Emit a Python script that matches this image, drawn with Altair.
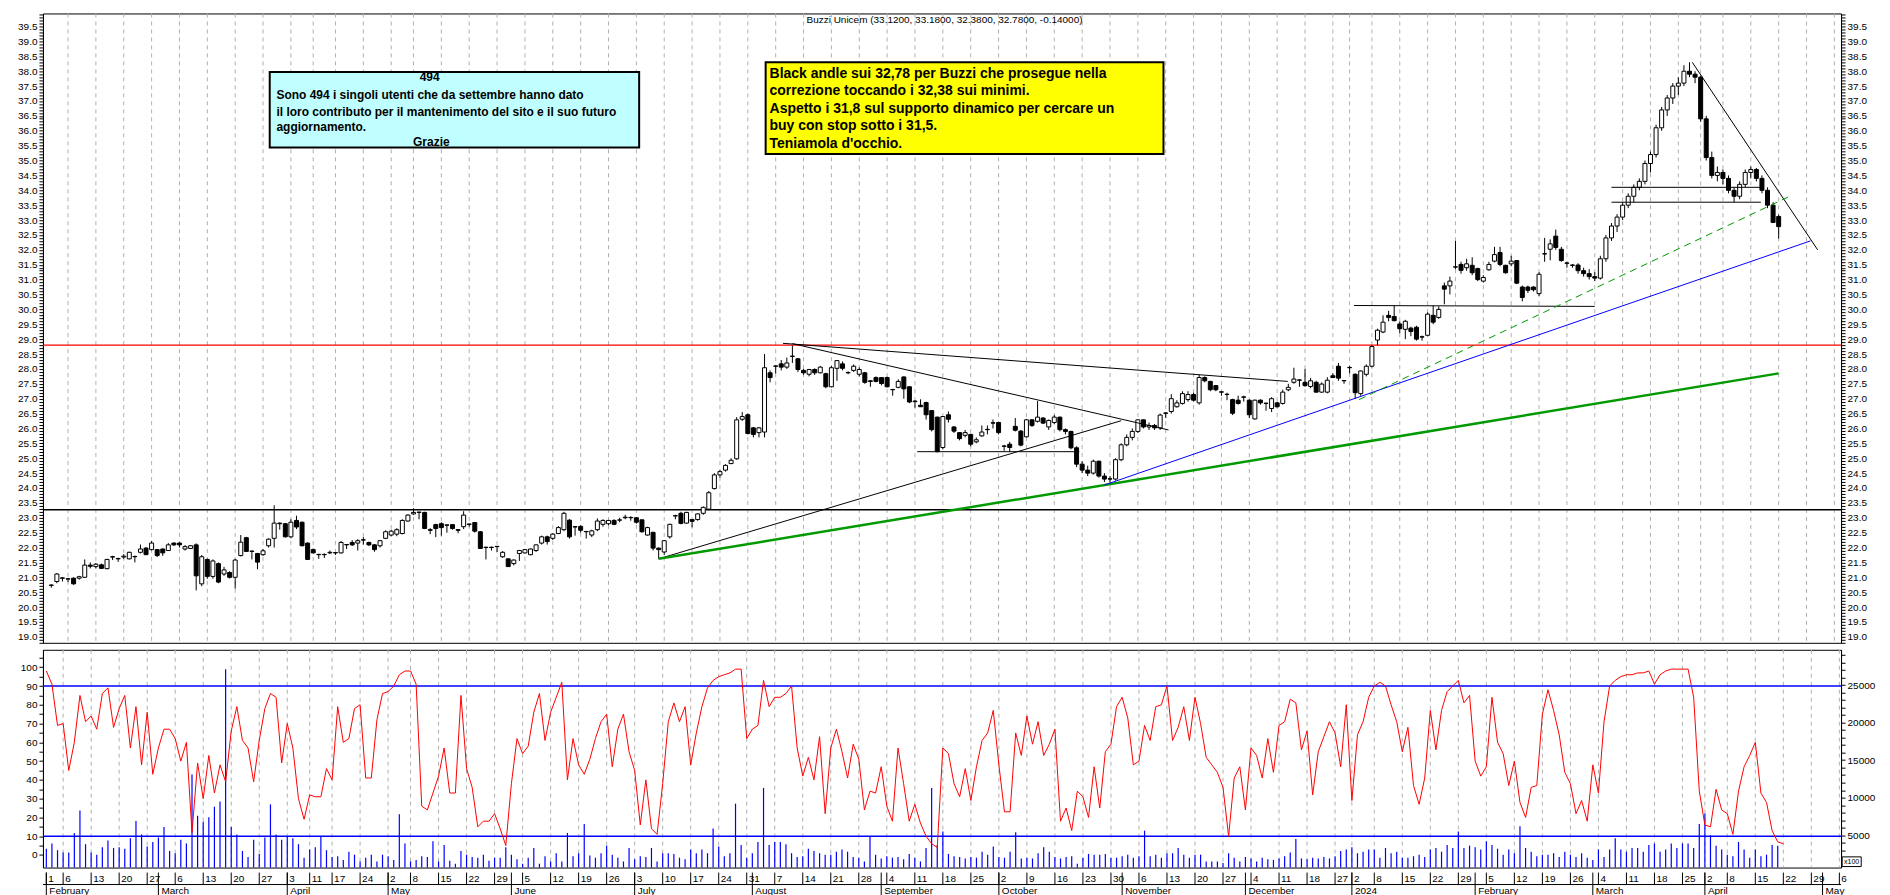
import altair as alt
import pandas as pd

TITLE = "Buzzi Unicem (33.1200, 33.1800, 32.3800, 32.7800, -0.14000)"
HOLIDAYS = ["2023-04-07", "2023-04-10", "2023-05-01", "2023-12-25", "2023-12-26",
            "2024-01-01", "2024-03-29", "2024-04-01"]

# (open, high, low, close) per trading day, month by month
FEB23 = [(20.74,20.76,20.65,20.73),(20.86,21.14,20.80,21.11),(20.98,21.00,20.86,20.97),(20.95,20.97,20.84,20.94),(20.97,21.00,20.75,20.78),
         (20.97,21.05,20.92,21.02),(21.00,21.60,20.98,21.41),(21.41,21.50,21.30,21.37),(21.36,21.48,21.30,21.44),(21.42,21.46,21.28,21.30),
         (21.29,21.62,21.27,21.60),(21.69,21.72,21.58,21.68),(21.63,21.66,21.52,21.62),(21.68,21.78,21.62,21.71),(21.62,21.86,21.60,21.84),
         (21.70,21.73,21.50,21.69),(21.84,22.10,21.80,21.95),(21.98,22.02,21.75,21.76),(21.93,22.22,21.90,22.15),(21.93,21.95,21.68,21.73)]
MAR23 = [(21.95,21.97,21.72,21.82),(21.90,22.15,21.88,22.09),(22.15,22.17,22.05,22.09),(22.15,22.18,22.00,22.09),(21.95,22.08,21.90,22.03),
         (21.97,22.08,21.95,22.06),(22.09,22.14,20.56,21.05),(20.78,21.75,20.70,21.69),(21.60,21.63,20.95,21.03),(21.03,21.60,20.95,21.55),
         (21.46,21.50,20.80,20.84),(21.11,21.35,21.05,21.25),(21.16,21.20,20.96,21.00),(21.00,21.62,20.62,21.58),(21.73,22.42,21.70,22.18),
         (22.33,22.36,21.85,21.87),(21.88,21.90,21.60,21.87),(21.80,21.82,21.27,21.51),(21.76,21.95,21.72,21.89),(22.06,22.31,22.00,22.28),
         (22.31,23.42,22.00,22.82),(22.82,22.84,22.60,22.80),(22.80,22.82,22.34,22.36)]
APR23 = [(22.36,22.95,22.31,22.85),(22.91,23.07,22.62,22.69),(22.85,22.87,22.04,22.06),(22.15,22.17,21.58,21.60),(21.93,21.97,21.80,21.82),
         (21.77,21.79,21.62,21.76),(21.77,21.80,21.65,21.76),(21.82,21.90,21.78,21.84),(21.83,21.85,21.75,21.82),(21.82,22.22,21.80,22.17),
         (22.10,22.12,21.95,22.09),(22.17,22.25,22.05,22.09),(22.15,22.28,21.90,22.23),(22.26,22.35,22.10,22.25),(22.17,22.20,22.05,22.09),
         (22.09,22.12,21.86,21.93),(22.06,22.25,22.00,22.23),(22.31,22.58,22.28,22.53)]
MAY23 = [(22.42,22.60,22.38,22.55),(22.45,22.65,22.38,22.60),(22.47,22.95,22.44,22.91),(22.89,23.12,22.87,23.09),(23.13,23.32,23.10,23.18),
         (23.19,23.20,22.95,23.18),(23.18,23.20,22.62,22.64),(22.60,22.65,22.45,22.58),(22.77,22.80,22.35,22.64),(22.80,22.85,22.40,22.67),
         (22.76,22.77,22.50,22.75),(22.77,22.78,22.60,22.64),(22.60,22.62,22.48,22.58),(22.70,23.22,22.62,23.09),(22.79,22.80,22.70,22.78),
         (22.84,22.86,22.50,22.55),(22.53,22.55,21.95,21.97),(22.01,22.03,21.60,22.00),(22.01,22.03,21.90,22.00),(22.04,22.05,21.85,22.03),
         (21.69,21.88,21.65,21.84),(21.62,21.64,21.35,21.36)]
JUN23 = [(21.46,21.60,21.40,21.58),(21.80,21.92,21.55,21.90),(21.82,21.95,21.80,21.93),(21.76,21.97,21.74,21.95),(21.90,22.10,21.85,22.09),
         (22.15,22.40,22.10,22.36),(22.36,22.40,22.10,22.20),(22.31,22.48,22.25,22.45),(22.47,22.72,22.45,22.67),(22.60,23.20,22.55,23.15),
         (22.92,22.95,22.30,22.36),(22.70,22.72,22.40,22.69),(22.71,22.75,22.50,22.58),(22.54,22.56,22.30,22.53),(22.42,22.60,22.35,22.56),
         (22.60,22.98,22.55,22.89),(22.78,22.95,22.70,22.91),(22.80,22.93,22.75,22.91),(22.91,22.95,22.75,22.78),(22.92,23.00,22.85,22.93),
         (23.00,23.10,22.95,23.02),(23.01,23.05,22.90,23.00)]
JUL23 = [(23.00,23.02,22.80,22.85),(22.93,22.95,22.50,22.53),(22.42,22.70,22.40,22.67),(22.51,22.53,21.90,21.98),(21.98,22.00,21.62,21.93),
         (21.85,22.25,21.75,22.23),(22.36,22.80,22.30,22.78),(23.06,23.10,22.95,23.07),(23.15,23.20,22.78,22.81),(22.82,23.20,22.80,23.18),
         (22.94,22.96,22.68,22.88),(22.94,23.15,22.90,23.13),(23.15,23.38,23.10,23.35),(23.29,23.90,23.25,23.84),(23.98,24.50,23.95,24.44),
         (24.44,24.60,24.35,24.55),(24.60,24.80,24.55,24.76),(24.82,25.00,24.80,24.93),(24.98,26.38,24.95,26.29),(26.31,26.55,26.25,26.40),
         (26.46,26.50,25.80,25.83)]
AUG23 = [(26.02,26.05,25.70,25.80),(25.86,26.05,25.70,26.02),(25.88,28.50,25.70,28.04),(27.87,27.95,27.55,27.71),(28.10,28.12,27.85,28.09),
         (28.17,28.30,27.95,28.06),(28.06,28.38,28.00,28.20),(28.43,28.78,28.20,28.42),(28.34,28.36,27.90,27.98),(27.95,28.00,27.80,27.87),
         (27.82,28.00,27.75,27.98),(27.98,28.02,27.80,27.87),(27.87,28.10,27.85,28.06),(27.84,27.87,27.35,27.40),(27.40,28.10,27.38,28.04),
         (28.02,28.30,27.60,28.28),(28.17,28.25,27.95,28.02),(27.88,27.92,27.82,27.87),(27.95,28.15,27.90,28.09),(27.82,28.05,27.75,27.98),
         (27.87,27.90,27.50,27.55),(27.60,27.63,27.40,27.58),(27.71,27.75,27.55,27.58)]
SEP23 = [(27.71,27.73,27.45,27.51),(27.71,27.74,27.38,27.40),(27.31,27.33,27.10,27.30),(27.38,27.65,27.35,27.58),(27.73,27.75,27.00,27.33),
         (27.40,27.42,26.85,26.89),(26.90,26.95,26.70,26.92),(26.78,26.98,26.72,26.73),(26.87,26.90,26.30,26.46),(26.60,26.62,25.90,25.96),
         (26.38,26.40,25.20,25.22),(25.36,26.42,25.30,26.40),(26.46,26.57,26.20,26.31),(26.05,26.08,25.85,25.91),(25.86,25.88,25.60,25.66),
         (25.77,25.95,25.70,25.86),(25.80,25.82,25.40,25.47),(25.55,25.70,25.50,25.62),(25.75,26.10,25.72,25.88),(25.97,26.10,25.80,25.96),
         (26.19,26.30,26.00,26.18)]
OCT23 = [(26.20,26.22,25.80,25.86),(25.41,25.45,25.25,25.40),(25.47,25.55,25.22,25.36),(26.07,26.35,25.90,25.94),(25.91,25.95,25.40,25.44),
         (25.72,26.32,25.70,26.29),(26.29,26.30,26.05,26.10),(26.24,26.92,26.20,26.38),(26.35,26.38,26.15,26.18),(26.05,26.30,25.95,26.27),
         (26.20,26.45,26.15,26.38),(26.38,26.40,25.90,25.96),(25.96,26.00,25.80,25.90),(25.90,25.92,25.30,25.35),(25.35,25.40,24.70,24.80),
         (24.80,24.90,24.50,24.60),(24.60,24.75,24.40,24.50),(24.50,24.95,24.45,24.90),(24.90,24.92,24.35,24.40),(24.40,24.50,24.20,24.30),
         (24.31,24.40,24.10,24.30),(24.30,25.00,24.25,24.95)]
NOV23 = [(24.95,25.50,24.90,25.45),(25.45,25.80,25.40,25.70),(25.70,26.00,25.60,25.90),(25.90,26.30,25.85,26.29),(26.29,26.30,26.00,26.05),
         (26.05,26.20,25.95,26.10),(26.10,26.15,25.95,26.02),(26.02,26.50,25.95,26.45),(26.52,26.55,26.35,26.51),(26.57,27.15,26.50,27.00),
         (26.73,26.95,26.70,26.86),(26.84,27.25,26.80,27.17),(26.97,27.25,26.90,27.14),(27.14,27.20,26.90,26.95),(26.86,27.80,26.80,27.71),
         (27.71,27.75,27.55,27.60),(27.58,27.60,27.25,27.30),(27.44,27.46,27.25,27.30),(27.23,27.25,27.10,27.22),(27.15,27.20,26.95,27.14),
         (26.97,27.00,26.45,26.51),(26.95,27.10,26.80,26.84)]
DEC23 = [(27.06,27.10,26.90,27.05),(26.95,26.97,26.35,26.46),(26.32,26.97,26.30,26.95),(26.95,26.98,26.80,26.86),(26.85,26.86,26.60,26.84),
         (26.67,27.05,26.55,27.00),(26.86,26.90,26.70,26.73),(26.84,27.30,26.80,27.22),(27.30,27.50,27.25,27.38),(27.55,28.04,27.50,27.66),
         (27.63,27.66,27.40,27.62),(27.55,28.00,27.40,27.44),(27.41,27.70,27.35,27.60),(27.55,27.60,27.20,27.22),(27.22,27.55,27.20,27.49),
         (27.22,27.72,27.18,27.62),(27.77,27.85,27.70,27.71),(28.09,28.20,27.60,27.69),(27.61,27.62,27.50,27.60)]
JAN24 = [(28.05,28.10,27.85,28.04),(27.82,27.85,27.00,27.20),(27.17,27.95,27.10,27.93),(27.82,28.15,27.75,28.09),(28.09,28.80,28.05,28.75),
         (28.97,29.35,28.80,29.30),(29.24,29.80,29.20,29.57),(29.80,29.95,29.60,29.73),(29.76,30.13,29.60,29.62),(29.51,29.60,29.20,29.35),
         (29.33,29.65,29.00,29.60),(29.37,29.42,29.10,29.26),(29.40,29.45,28.95,29.00),(29.08,29.12,28.95,29.07),(29.13,29.90,29.10,29.84),
         (29.80,30.13,29.50,29.57),(29.73,30.10,29.68,30.00),(30.79,30.90,30.17,30.68),(30.79,31.10,30.50,30.95),(31.43,32.30,31.35,31.42),
         (31.51,31.60,31.20,31.31),(31.40,31.70,31.30,31.53)]
FEB24 = [(31.48,31.75,31.15,31.23),(31.37,31.40,30.95,31.00),(30.95,31.15,30.90,31.07),(31.33,31.60,31.30,31.51),(31.62,32.10,31.58,31.84),
         (31.91,32.10,31.45,31.51),(31.48,31.50,31.20,31.23),(31.53,31.80,31.45,31.62),(31.64,31.66,30.85,30.88),(30.75,30.80,30.27,30.40),
         (30.75,30.80,30.55,30.64),(30.75,30.78,30.60,30.66),(30.53,31.25,30.45,31.18),(31.87,32.40,31.60,31.86),(32.02,32.35,31.65,32.20),
         (32.46,32.68,32.00,32.08),(32.02,32.10,31.60,31.64),(31.56,31.60,31.40,31.55),(31.49,31.52,31.40,31.48),(31.49,31.55,31.20,31.30),
         (31.30,31.40,31.10,31.20)]
MAR24 = [(31.20,31.35,31.00,31.10),(31.10,31.25,30.95,31.05),(31.05,31.80,31.00,31.70),(31.70,32.50,31.60,32.40),(32.40,32.90,32.30,32.80),
         (32.80,33.20,32.60,33.10),(33.10,33.60,33.00,33.50),(33.50,33.90,33.40,33.80),(33.80,34.20,33.60,34.10),(34.10,34.40,34.00,34.30),
         (34.30,35.00,34.20,34.90),(34.90,35.30,34.60,35.20),(35.20,36.20,35.10,36.10),(36.10,36.80,36.00,36.70),(36.70,37.20,36.50,37.10),
         (37.10,37.60,36.90,37.50),(37.50,37.80,37.20,37.60),(37.60,38.20,37.50,38.00),(38.00,38.30,37.80,37.90),(37.90,38.00,37.60,37.80)]
APR24 = [(37.80,37.85,36.30,36.40),(36.40,36.50,35.00,35.10),(35.10,35.30,34.40,34.50),(34.50,34.80,34.30,34.60),(34.60,34.70,34.20,34.40),
         (34.40,34.50,33.90,34.00),(34.00,34.10,33.60,33.80),(33.80,34.30,33.70,34.20),(34.20,34.70,34.10,34.60),(34.60,34.80,34.40,34.70),
         (34.70,34.75,34.30,34.40),(34.40,34.50,33.90,34.00),(34.00,34.10,33.40,33.50),(33.50,33.60,32.90,32.92),(33.12,33.18,32.38,32.78)]

# oscillator (left scale) per trading day
OSC = [98,91,69,70,45,60,85,71,74,67,86,89,68,78,85,57,79,48,76,43,
       57,67,67,62,50,60,12,49,30,53,33,48,39,66,79,61,57,39,61,78,86,84,49,
       70,57,30,19,32,31,31,46,40,79,60,62,78,80,41,41,72,86,
       87,90,96,98,98,91,26,24,33,42,57,33,33,85,46,36,15,18,18,22,14,5,
       38,62,54,58,76,86,61,76,84,92,40,62,48,43,51,62,71,75,47,67,75,55,
       45,16,40,14,11,38,71,81,71,79,48,65,79,89,93,95,96,97,99,99,62,
       67,69,93,79,84,84,86,90,57,42,52,40,63,22,57,67,55,41,59,51,24,34,33,
       47,26,18,57,38,18,27,17,10,6,4,57,54,38,31,46,29,47,61,65,77,
       48,23,23,65,53,74,59,71,53,59,67,18,25,13,34,31,20,47,25,55,59,79,
       84,73,48,50,69,61,79,80,90,61,68,79,61,84,70,52,48,44,36,10,41,47,
       24,57,53,41,62,44,69,71,83,81,56,66,32,55,63,71,65,47,80,
       29,64,71,84,90,92,90,80,71,55,68,37,27,41,77,56,77,87,90,93,81,85,
       50,42,47,84,60,54,37,50,28,20,36,37,75,88,77,64,44,38,22,29,18,
       48,33,71,90,93,95,96,96,97,97,98,91,96,98,99,99,99,99,84,34,
       16,15,35,24,22,11,34,47,53,60,33,28,13,7,6]
# volume (right scale, x100) per trading day
VOLUME = [3200,3900,3000,2700,2700,5300,8300,3800,2700,2400,3400,4300,3300,3400,3200,4600,6900,5100,3500,4100,
          4700,6100,2900,2600,4400,3900,13100,7600,6800,7400,8800,9500,27100,6100,5100,2900,2100,4400,2500,4700,9100,5100,4400,
          4900,4600,3800,2000,3100,3400,4900,3000,2100,2200,1700,2800,2400,1500,2000,2400,1500,2400,
          2200,1700,7800,3900,1500,1700,2200,2100,4200,1500,3700,1600,1200,2900,2400,2100,2000,2400,1600,2000,2000,3400,
          2400,1800,1200,2000,3300,1200,2200,1500,2600,1500,5300,2200,2600,6500,2300,2000,2600,3600,2400,2000,1500,3300,
          1800,2200,2100,3300,1500,2600,2600,2500,2000,1800,3100,2600,3100,2600,5900,3500,2200,2600,9200,3700,
          2000,2600,4100,11300,3700,4100,4100,3800,2600,2100,2200,3200,2900,2600,2400,2400,2800,3100,2800,2100,2000,1500,4800,
          2400,1900,2200,2000,2100,1800,2500,2000,1500,3300,11300,3700,5500,2500,2200,2100,1900,2100,2000,2800,2400,
          3500,2100,2000,2800,5400,1900,2000,1900,2600,3400,2800,2100,1900,2100,2200,1200,2000,2500,2400,2400,2500,2000,
          2000,2200,2400,2000,2200,5600,2200,2400,2000,2600,2600,3300,2400,2000,2400,2400,1500,1500,1500,1300,2600,2000,
          1500,2100,1900,1500,2000,1800,1700,1900,2200,2700,4500,1900,1800,2000,1900,2100,1900,2200,2900,
          3100,3400,2600,2800,3100,3100,2000,3300,2600,2800,2000,2000,2200,2400,2100,3100,3300,2800,3700,3300,5500,3300,
          3600,3400,3100,4200,3700,3200,2400,3100,2600,6200,3300,2800,2200,2400,2400,2600,2100,2800,2400,2100,2600,
          2000,1700,3100,2100,3100,4600,3100,2800,3300,3300,2800,3700,3900,2800,3100,3900,3300,3900,3900,3300,
          6500,7900,5000,3600,3100,2400,2200,4100,3100,2000,3100,2200,2400,3700,3600]

HLINE_P = [28.8, 23.27]
HLINE_C = ["#ff0000", "#000000"]

# trend lines: start index, start price, end index, end price
TL_X1 = [109.0, 133.0, 131.3, 155.4, 109.0, 189.0, 233.8, 280.0, 280.0, 294.5]
TL_Y1 = [21.62, 28.85, 28.86, 25.22, 21.62, 24.10, 30.13, 34.10, 33.60, 38.30]
TL_X2 = [192.0, 200.5, 221.9, 184.5, 310.0, 315.7, 277.0, 306.8, 306.8, 317.0]
TL_Y2 = [26.26, 25.95, 27.58, 25.22, 27.85, 32.30, 30.10, 34.10, 33.60, 32.00]
TL_C = ["#000000", "#000000", "#000000", "#000000", "#009900", "#0000ff", "#000000", "#000000", "#000000", "#000000"]
TL_W = [1, 1, 1, 1, 2.5, 1, 1, 1, 1, 1]
DASH_X1, DASH_Y1, DASH_X2, DASH_Y2 = [234.7], [26.97], [312.0], [33.80]

BOX_X1 = [39.2, 128.2]
BOX_X2 = [105.5, 199.6]
BOX_Y1 = [37.97, 38.30]
BOX_Y2 = [35.44, 35.22]
BOX_FILL = ["#c0ffff", "#ffff00"]

CYAN_TEXT = ["494", "Sono 494 i singoli utenti che da settembre hanno dato",
             "il loro contributo per il mantenimento del sito e il suo futuro",
             "aggiornamento.", "Grazie"]
CYAN_X = [67.9, 40.4, 40.4, 40.4, 68.2]
CYAN_Y = [37.81, 37.21, 36.64, 36.11, 35.62]
CYAN_ALIGN = ["center", "left", "left", "left", "center"]
YEL_TEXT = ["Black andle sui 32,78 per Buzzi che prosegue nella",
            "correzione toccando i 32,38 sui minimi.",
            "Aspetto i 31,8 sul supporto dinamico per cercare un",
            "buy con stop sotto i 31,5.",
            "Teniamola d'occhio."]
YEL_X = [128.9] * 5
YEL_Y = [37.92, 37.32, 36.72, 36.17, 35.57]

# ---------------------------------------------------------------- build tables
rows = FEB23 + MAR23 + APR23 + MAY23 + JUN23 + JUL23 + AUG23 + SEP23 + OCT23 + NOV23 + DEC23 + JAN24 + FEB24 + MAR24 + APR24
hist = pd.bdate_range("2023-02-01", "2024-04-22")
hist = hist[~hist.isin(pd.to_datetime(HOLIDAYS))]
fut = pd.bdate_range("2024-04-23", "2024-05-10")
days = hist.append(fut)
n = len(rows)

df = pd.DataFrame(rows, columns=["o", "h", "l", "c"])
df["i"] = range(n)
df["fill"] = ["#ffffff" if c >= o else "#000000" for o, c in zip(df.o, df.c)]
osc_df = pd.DataFrame({"i": range(len(OSC[:n])), "v": OSC[:n]})
vol_df = pd.DataFrame({"i": range(len(VOLUME[:n])), "v": VOLUME[:n]})

X_MAX = 320.3
cal = pd.DataFrame({"d": days})
cal["i"] = range(len(cal))
cal = cal[cal.i <= X_MAX]
iso = cal.d.dt.isocalendar()
cal["wk"] = iso.year.astype(str) + "-" + iso.week.astype(str)
weeks = cal.groupby("wk", sort=False).first().reset_index()
weeks["lab"] = weeks.d.dt.day.astype(str)
cal["m"] = cal.d.dt.strftime("%Y-%m")
months = cal.groupby("m", sort=False).first().reset_index()
months["lab"] = [("2024" if (d.year == 2024 and d.month == 1) else d.strftime("%B")) for d in months.d]
weeks = weeks[["i", "lab"]]
months = months[["i", "lab"]]
grid_df = weeks[weeks.i > 0]

tl_df = pd.DataFrame({"x1": TL_X1, "y1": TL_Y1, "x2": TL_X2, "y2": TL_Y2, "col": TL_C, "w": TL_W})
dash_df = pd.DataFrame({"x1": DASH_X1, "y1": DASH_Y1, "x2": DASH_X2, "y2": DASH_Y2})
hl_df = pd.DataFrame({"p": HLINE_P, "col": HLINE_C})
box_df = pd.DataFrame({"x1": BOX_X1, "x2": BOX_X2, "y1": BOX_Y1, "y2": BOX_Y2, "f": BOX_FILL})
cyan_df = pd.DataFrame({"t": CYAN_TEXT, "x": CYAN_X, "y": CYAN_Y, "a": CYAN_ALIGN})
yel_df = pd.DataFrame({"t": YEL_TEXT, "x": YEL_X, "y": YEL_Y})
one = pd.DataFrame({"k": [0]})

# ---------------------------------------------------------------- scales / axes
W, H1, H2, H3 = 1800, 630, 218, 24
FONT = "Liberation Sans"
xs = alt.Scale(domain=[-0.6, X_MAX], nice=False, zero=False)
ps = alt.Scale(domain=[18.8, 39.94], nice=False, zero=False)
rs = alt.Scale(domain=[-6.7, 109.3], nice=False, zero=False)
vs = alt.Scale(domain=[686, 29700], nice=False, zero=False)
ds = alt.Scale(domain=[0, 1], nice=False, zero=False)


def X(f="i"):
    return alt.X(f"{f}:Q", scale=xs, axis=None)


common_ax = dict(labelOverlap=False, tickSize=4, labelFontSize=10, labelFont=FONT, labelColor="black",
                 tickColor="black", domainColor="black", grid=False, labelPadding=2, title=None)
pvals = [round(18.8 + 0.1 * k, 1) for k in range(0, 212)]
p_expr = "(round(datum.value*10) % 5 == 0) ? format(datum.value, '.1f') : ''"
AX_PL = alt.Axis(values=pvals, labelExpr=p_expr, orient="left", minExtent=34, maxExtent=34, **common_ax)
AX_PR = alt.Axis(values=pvals, labelExpr=p_expr, orient="right", minExtent=40, maxExtent=40, **common_ax)
rvals = list(range(0, 110, 5))
AX_RL = alt.Axis(values=rvals, labelExpr="(datum.value % 10 == 0 && datum.value <= 100) ? datum.value : ''",
                 orient="left", minExtent=34, maxExtent=34, **common_ax)
vvals = list(range(1000, 30000, 1000))
AX_VR = alt.Axis(values=vvals, labelExpr="(datum.value % 5000 == 0 && datum.value <= 25000) ? datum.value : ''",
                 orient="right", minExtent=40, maxExtent=40, **common_ax)
AX_D = alt.Axis(labels=False, ticks=False, domain=False, grid=False, title=None, minExtent=34, maxExtent=34)

GRID = dict(color="#b0b0b0", strokeDash=[4, 4], strokeWidth=1)

# ---------------------------------------------------------------- upper panel
u_grid = alt.Chart(grid_df).mark_rule(**GRID).encode(x=X())
u_hl = alt.Chart(hl_df).mark_rule(strokeWidth=1.3).encode(
    y=alt.Y("p:Q", scale=ps, axis=None), color=alt.Color("col:N", scale=None))
u_box = alt.Chart(box_df).mark_rect(stroke="black", strokeWidth=2).encode(
    x=X("x1"), x2="x2:Q", y=alt.Y("y1:Q", scale=ps, axis=None), y2="y2:Q", fill=alt.Fill("f:N", scale=None))
u_cyan_l = alt.Chart(cyan_df[cyan_df.a == "left"]).mark_text(align="left", baseline="middle", fontSize=12,
                                                           fontWeight="bold", font=FONT, color="black").encode(
    x=X("x"), y=alt.Y("y:Q", scale=ps, axis=None), text="t:N")
u_cyan_c = alt.Chart(cyan_df[cyan_df.a == "center"]).mark_text(align="center", baseline="middle", fontSize=12,
                                                             fontWeight="bold", font=FONT, color="black").encode(
    x=X("x"), y=alt.Y("y:Q", scale=ps, axis=None), text="t:N")
u_yel = alt.Chart(yel_df).mark_text(align="left", baseline="middle", fontSize=14, fontWeight="bold", font=FONT,
                                    color="black").encode(
    x=X("x"), y=alt.Y("y:Q", scale=ps, axis=None), text="t:N")
u_title = alt.Chart(one).mark_text(align="center", baseline="middle", fontSize=10, font=FONT, color="black",
                                   text=TITLE).encode(
    x=alt.XDatum(160.3, scale=xs, axis=None), y=alt.YDatum(39.71, scale=ps, axis=None))
u_wick = alt.Chart(df).mark_rule(color="black", strokeWidth=1).encode(
    x=X(), y=alt.Y("l:Q", scale=ps, axis=AX_PL), y2="h:Q")
u_body = alt.Chart(df).mark_bar(size=4, stroke="black", strokeWidth=1).encode(
    x=X(), y=alt.Y("o:Q", scale=ps, axis=AX_PR), y2="c:Q", fill=alt.Fill("fill:N", scale=None))
u_tl = alt.Chart(tl_df).mark_rule().encode(
    x=X("x1"), x2="x2:Q", y=alt.Y("y1:Q", scale=ps, axis=None), y2="y2:Q",
    color=alt.Color("col:N", scale=None), strokeWidth=alt.StrokeWidth("w:Q", scale=None))
u_dash = alt.Chart(dash_df).mark_rule(color="#009900", strokeWidth=1, strokeDash=[7, 5]).encode(
    x=X("x1"), x2="x2:Q", y=alt.Y("y1:Q", scale=ps, axis=None), y2="y2:Q")

upper = alt.layer(u_grid, u_hl, u_box, u_cyan_l, u_cyan_c, u_yel, u_title, u_wick, u_body, u_tl, u_dash).resolve_axis(
    y="independent").properties(width=W, height=H1, view=alt.ViewBackground(stroke="black", strokeWidth=1))

# ---------------------------------------------------------------- lower panel
l_grid = alt.Chart(grid_df).mark_rule(**GRID).encode(x=X())
l_band = alt.Chart(pd.DataFrame({"b": [90, 10]})).mark_rule(color="#0000ff", strokeWidth=1.5).encode(
    y=alt.Y("b:Q", scale=rs, axis=None))
l_vol = alt.Chart(vol_df).mark_rule(color="#0000ff", strokeWidth=1.2).encode(
    x=X(), y=alt.Y("v:Q", scale=vs, axis=AX_VR), y2=alt.Y2Datum(686))
l_osc = alt.Chart(osc_df).mark_line(color="#ff0000", strokeWidth=1).encode(
    x=X(), y=alt.Y("v:Q", scale=rs, axis=AX_RL))
l_x100_box = alt.Chart(one).mark_rect(fill="white", stroke="black", strokeWidth=1).encode(
    x=alt.XDatum(320.5, scale=xs, axis=None), x2=alt.X2Datum(323.9),
    y=alt.YDatum(2110, scale=vs, axis=None), y2=alt.Y2Datum(820))
l_x100 = alt.Chart(one).mark_text(align="center", baseline="middle", fontSize=7, font=FONT, color="black",
                                  text="x100").encode(
    x=alt.XDatum(322.2, scale=xs, axis=None), y=alt.YDatum(1465, scale=vs, axis=None))

lower = alt.layer(l_grid, l_band, l_vol, l_osc, l_x100_box, l_x100).resolve_scale(y="independent").properties(
    width=W, height=H2, view=alt.ViewBackground(stroke="black", strokeWidth=1))

# ---------------------------------------------------------------- date axis
d_sep = alt.Chart(one).mark_rule(color="black", strokeWidth=1).encode(y=alt.YDatum(0.5, scale=ds, axis=AX_D))
d_wk = alt.Chart(weeks).mark_rule(color="black", strokeWidth=1).encode(
    x=X(), y=alt.YDatum(0.5, scale=ds, axis=None), y2=alt.Y2Datum(1.0))
d_mo = alt.Chart(months).mark_rule(color="black", strokeWidth=1).encode(
    x=X(), y=alt.YDatum(0.0, scale=ds, axis=None), y2=alt.Y2Datum(1.0))
d_wk_t = alt.Chart(weeks).mark_text(align="left", baseline="middle", dx=2, fontSize=10, font=FONT, color="black").encode(
    x=X(), y=alt.YDatum(0.74, scale=ds, axis=None), text="lab:N")
d_mo_t = alt.Chart(months).mark_text(align="left", baseline="middle", dx=3, fontSize=10, font=FONT, color="black").encode(
    x=X(), y=alt.YDatum(0.24, scale=ds, axis=None), text="lab:N")
dates = alt.layer(d_sep, d_wk, d_mo, d_wk_t, d_mo_t).properties(
    width=W, height=H3, view=alt.ViewBackground(strokeWidth=0))

chart = alt.vconcat(upper, lower, dates, spacing=0).configure_view(strokeWidth=0).configure(
    background="white", padding=0)
chart.save("out.html", embed_options={"renderer": "svg", "actions": False})
